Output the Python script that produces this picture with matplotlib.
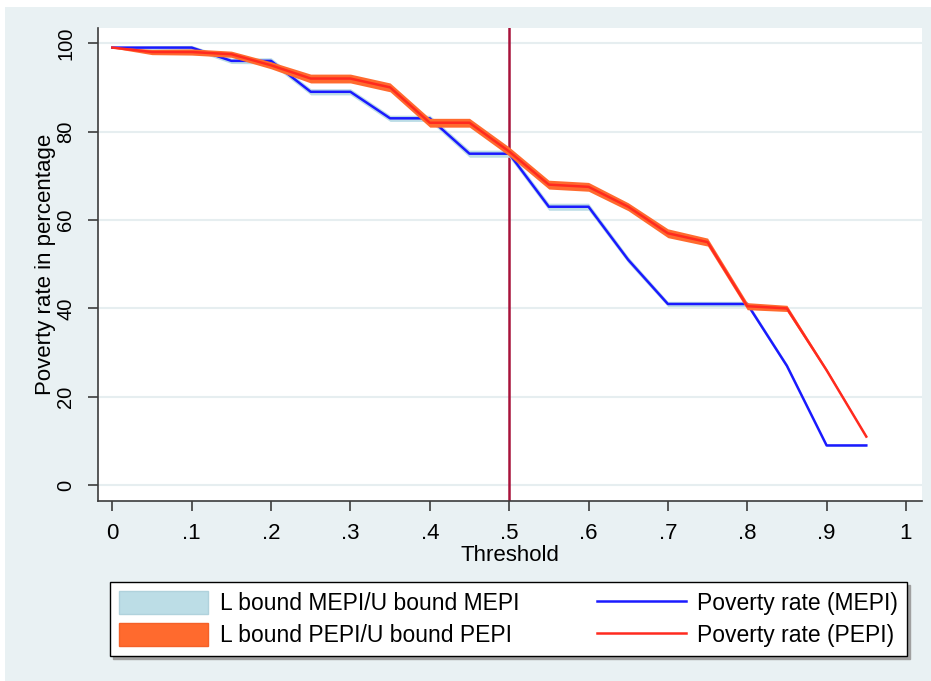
import matplotlib.pyplot as plt
from matplotlib.patches import Rectangle, Patch
from matplotlib.lines import Line2D

plt.rcParams['font.family'] = ['Liberation Sans', 'DejaVu Sans']

# thresholds
threshold = [0, .05, .1, .15, .2, .25, .3, .35, .4, .45,
             .5, .55, .6, .65, .7, .75, .8, .85, .9, .95]

# poverty rate (MEPI) with bounds
mepi = [99, 99, 99, 96, 96, 89, 89, 83, 83, 75,
        75, 63, 63, 51, 41, 41, 41, 27, 9, 9]
mepi_lo = [98.8, 98.6, 98.5, 95.4, 95.3, 88.3, 88.3, 82.3, 82.3, 74.2,
           74.2, 62.2, 62.2, 50.3, 40.4, 40.4, 40.4, 26.5, 8.8, 8.8]
mepi_hi = [99.2, 99.4, 99.5, 96.6, 96.7, 89.7, 89.7, 83.7, 83.7, 75.8,
           75.8, 63.8, 63.8, 51.7, 41.6, 41.6, 41.6, 27.5, 9.2, 9.2]

# poverty rate (PEPI) with bounds
pepi = [99, 98, 98, 97.5, 95, 92, 92, 90, 82, 82,
        75.5, 68, 67.5, 63, 57, 55, 40.5, 40, 26, 11]
pepi_lo = [98.9, 97.4, 97.3, 96.8, 94.2, 91.0, 91.0, 89.0, 81.0, 81.0,
           74.5, 67.0, 66.5, 62.1, 56.0, 54.1, 39.7, 39.3, 25.6, 10.8]
pepi_hi = [99.1, 98.6, 98.7, 98.2, 95.8, 93.0, 93.0, 91.0, 83.0, 83.0,
           76.5, 69.0, 68.5, 63.9, 58.0, 55.9, 41.3, 40.7, 26.4, 11.2]

xticks = [0, .1, .2, .3, .4, .5, .6, .7, .8, .9, 1]
xtick_labels = ['0', '.1', '.2', '.3', '.4', '.5', '.6', '.7', '.8', '.9', '1']
yticks = [0, 20, 40, 60, 80, 100]

W, H = 931, 681
bg = '#e9f1f3'
blue_band = '#bcdde6'
red_band = '#ff6a2e'
blue_line = '#1a1aff'
red_line = '#ff2a1f'
axis_col = '#3c3c3c'

fig = plt.figure(figsize=(W / 100, H / 100), dpi=100, facecolor='white')
fig.patches.append(Rectangle((5 / W, 0), 1, (H - 7) / H,
                             transform=fig.transFigure, facecolor=bg,
                             edgecolor='none', zorder=-10))

ax = fig.add_axes([97.7 / W, 1 - 500.7 / H, 824 / W, 473 / H])
ax.set_facecolor('white')

ax.axvline(0.5, color='#a8123a', lw=1.8, zorder=1)
ax.fill_between(threshold, mepi_lo, mepi_hi, color=blue_band, lw=0, zorder=2)
ax.plot(threshold, mepi, color=blue_line, lw=1.8, zorder=3)
ax.fill_between(threshold, pepi_lo, pepi_hi, color=red_band, lw=0, zorder=4)
ax.plot(threshold, pepi, color=red_line, lw=1.8, zorder=5)

ax.set_xlim(-0.0184, 1.0198)
ax.set_ylim(-3.5, 103.5)
ax.set_xticks(xticks)
ax.set_xticklabels(xtick_labels)
ax.set_yticks(yticks)
ax.set_yticklabels([str(v) for v in yticks], rotation=90, va='center')
ax.grid(axis='y', color='#e6eef0', lw=1.5, zorder=0)
ax.set_axisbelow(True)

for s in ['top', 'right']:
    ax.spines[s].set_visible(False)
for s in ['left', 'bottom']:
    ax.spines[s].set_color(axis_col)
    ax.spines[s].set_linewidth(1.2)
ax.tick_params(axis='both', direction='out', length=7, width=1.2,
               color=axis_col, labelcolor='black')
ax.tick_params(axis='x', pad=9, labelsize=16)
ax.tick_params(axis='y', pad=9, labelsize=14.5)

ax.set_xlabel('Threshold', fontsize=16, labelpad=1)
ax.set_ylabel('Poverty rate in percentage', fontsize=16, labelpad=0)

handles = [Patch(facecolor=blue_band, edgecolor='#b0d2dc'),
           Patch(facecolor=red_band, edgecolor='#f46028'),
           Line2D([], [], color=blue_line, lw=1.8),
           Line2D([], [], color=red_line, lw=1.8)]
labels = ['L bound MEPI/U bound MEPI', 'L bound PEPI/U bound PEPI',
          'Poverty rate (MEPI)', 'Poverty rate (PEPI)']
leg = fig.legend(handles, labels, ncol=2, loc='upper left',
                 bbox_to_anchor=(110 / W, 1 - 583 / H, 797 / W, 0.001),
                 mode='expand', fontsize=16.5, frameon=True, fancybox=False,
                 shadow={'color': '#a0a0a0', 'alpha': 1}, edgecolor='black',
                 handlelength=3.9, handleheight=1.15, handletextpad=0.5,
                 columnspacing=1.8, borderaxespad=0, borderpad=0.38,
                 labelspacing=0.35)
leg.get_frame().set_linewidth(1.0)

fig.savefig('out.png', dpi=100, facecolor='white')
